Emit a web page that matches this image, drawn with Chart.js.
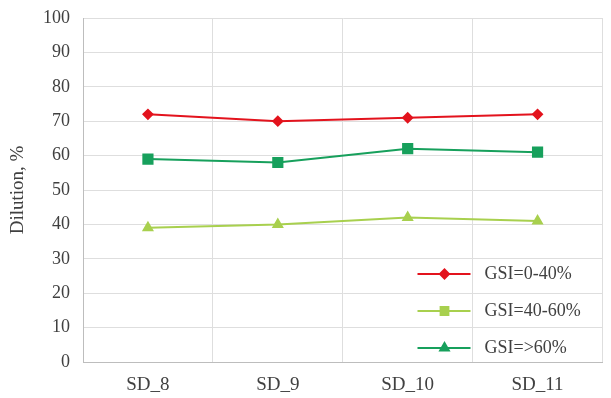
<!DOCTYPE html>
<html>
<head>
<meta charset="utf-8">
<script src="https://cdn.jsdelivr.net/npm/chart.js@4.4.1/dist/chart.umd.min.js"></script>
<style>
	html, body { margin: 0; padding: 0; background: #fff; }
	#wrap { width: 611px; height: 398px; position: relative; }
</style>
</head>
<body>
<div id="wrap"><canvas id="dilution-chart"></canvas></div>
<script>

	// Data -------------------------------------------------------------------------/
	const categories = ['SD_8', 'SD_9', 'SD_10', 'SD_11'];
	const gsi_0_40 = [72, 70, 71, 72];
	const gsi_40_60 = [39, 40, 42, 41];
	const gsi_60 = [59, 58, 62, 61];
	const series_labels = ['GSI=0-40%', 'GSI=40-60%', 'GSI=>60%'];
	const y_ticks = [0, 10, 20, 30, 40, 50, 60, 70, 80, 90, 100];

	const FONT = 'Liberation Serif';
	const RED = '#e3131d';
	const LIGHT_GREEN = '#a8d04e';
	const DARK_GREEN = '#17a05c';

	// legend in the picture shows other markers than the plot itself
	const legend_marks = ['rectRot', 'rect', 'triangle'];
	const legend_radius = [4.5, 5.5, 5];

	/**
	 * Draws the legend inside the lower right of the plot: line + marker + label.
	 */
	const insideLegend = {
		id: 'insideLegend',
		afterDatasetsDraw: function (chart) {
			const ctx = chart.ctx;
			const area = chart.chartArea;
			const x0 = area.right - 185;
			let y = area.bottom - 88;

			chart.data.datasets.forEach(function (ds, i) {
				ctx.save();
				ctx.strokeStyle = ds.borderColor;
				ctx.lineWidth = 2;
				ctx.beginPath();
				ctx.moveTo(x0, y);
				ctx.lineTo(x0 + 53, y);
				ctx.stroke();

				Chart.helpers.drawPoint(ctx, {
					pointStyle: legend_marks[i],
					radius: legend_radius[i],
					rotation: 0,
					borderWidth: 1
				}, x0 + 27, y);
				ctx.fillStyle = ds.pointBackgroundColor;
				ctx.fill();

				ctx.fillStyle = '#404040';
				ctx.font = '18px "' + FONT + '"';
				ctx.textAlign = 'left';
				ctx.textBaseline = 'middle';
				ctx.fillText(ds.label, x0 + 67, y);
				ctx.restore();
				y += 37;
			});
		}
	};

	const ctx = document.getElementById('dilution-chart').getContext('2d');
	new Chart(ctx, {
		type: 'line',
		data: {
			labels: categories,
			datasets: [{
				label: series_labels[0],
				data: gsi_0_40,
				borderColor: RED,
				backgroundColor: RED,
				pointBackgroundColor: RED,
				pointBorderColor: RED,
				pointStyle: 'rectRot',
				pointRadius: 4.5,
				borderWidth: 2
			}, {
				label: series_labels[1],
				data: gsi_40_60,
				borderColor: LIGHT_GREEN,
				backgroundColor: LIGHT_GREEN,
				pointBackgroundColor: LIGHT_GREEN,
				pointBorderColor: LIGHT_GREEN,
				pointStyle: 'triangle',
				pointRadius: 5,
				borderWidth: 2
			}, {
				label: series_labels[2],
				data: gsi_60,
				borderColor: DARK_GREEN,
				backgroundColor: DARK_GREEN,
				pointBackgroundColor: DARK_GREEN,
				pointBorderColor: DARK_GREEN,
				pointStyle: 'rect',
				pointRadius: 6.5,
				borderWidth: 2
			}]
		},
		options: {
			responsive: true,
			maintainAspectRatio: false,
			animation: false,
			layout: {
				padding: { top: 18, right: 6, left: 0, bottom: 0 }
			},
			plugins: {
				legend: { display: false },
				tooltip: { enabled: false }
			},
			scales: {
				x: {
					offset: true,
					grid: {
						offset: true,
						color: '#dedede',
						lineWidth: 1,
						drawTicks: false
					},
					border: { color: '#bdbdbd', width: 1 },
					ticks: {
						padding: 12,
						color: '#404040',
						font: { family: FONT, size: 19 }
					},
					afterFit: function (scale) {
						scale.height = 36;
						scale.paddingLeft = 0;
						scale.paddingRight = 0;
					}
				},
				y: {
					min: 0,
					max: 100,
					afterBuildTicks: function (scale) {
						scale.ticks = y_ticks.map(function (v) { return { value: v }; });
					},
					grid: {
						color: '#dedede',
						lineWidth: 1,
						drawTicks: false
					},
					border: { color: '#bdbdbd', width: 1 },
					ticks: {
						padding: 13,
						color: '#404040',
						font: { family: FONT, size: 18 }
					},
					title: {
						display: true,
						text: 'Dilution, %',
						color: '#404040',
						padding: { top: 7, bottom: 0 },
						font: { family: FONT, size: 19 }
					},
					afterFit: function (scale) {
						scale.width = 83;
						scale.paddingTop = 0;
						scale.paddingBottom = 0;
					}
				}
			}
		},
		plugins: [insideLegend]
	});
</script>
</body>
</html>
